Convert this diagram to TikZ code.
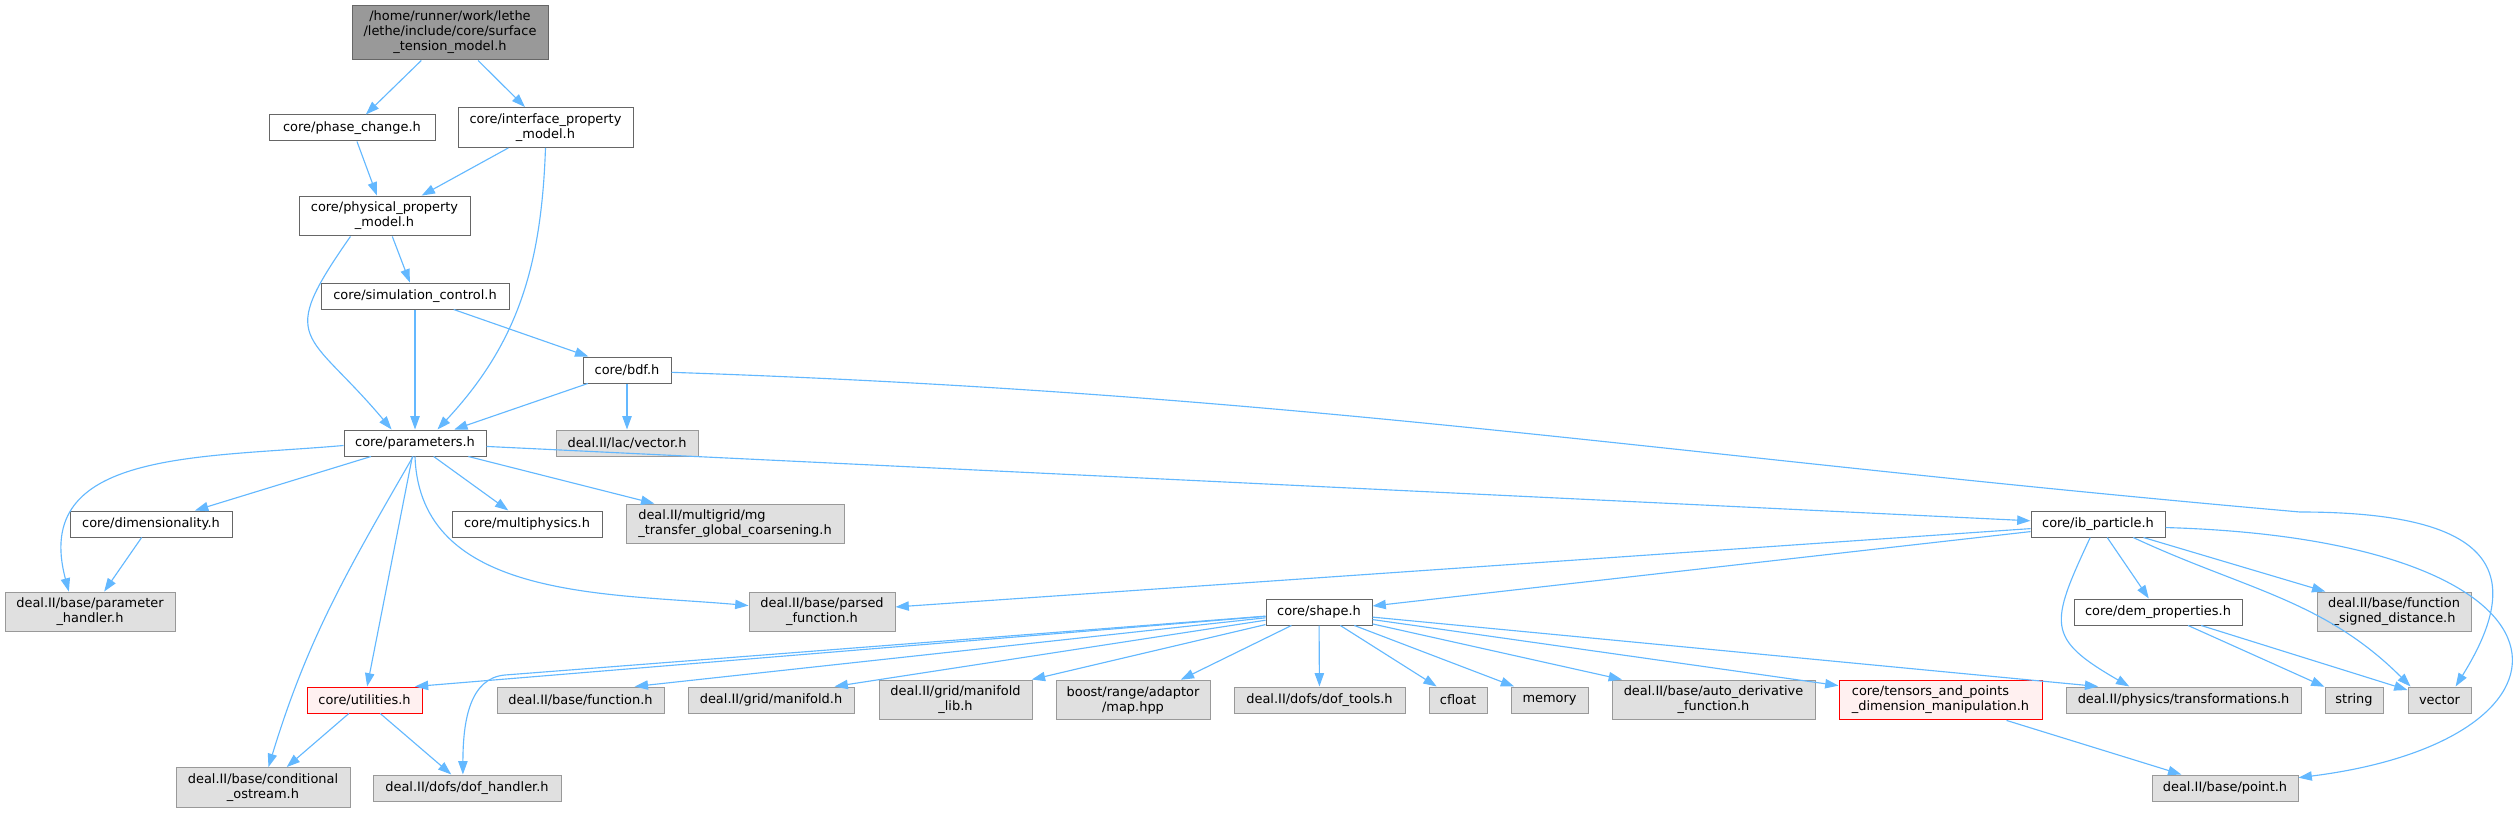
\documentclass[tikz,border=0pt]{standalone}
\usepackage{fontspec}
\setmainfont{DejaVu Sans}
\usepackage{xcolor}
\usetikzlibrary{arrows.meta}

\definecolor{edgeblue}{HTML}{63B8FF}
\definecolor{extgray}{HTML}{E0E0E0}
\definecolor{curgray}{HTML}{999999}
\definecolor{darkframe}{HTML}{666666}
\definecolor{lightframe}{HTML}{999999}
\definecolor{warnfill}{HTML}{FFF0F0}

\begin{document}
\begin{tikzpicture}[
          x=0.75pt, y=-0.75pt,
          base/.style={draw, line width=0.75pt, inner xsep=2pt, inner ysep=4.5pt, minimum height=19.5pt, align=center, font=\fontsize{9.7}{11.25}\selectfont},
          own/.style={base, draw=darkframe, fill=white},
          ext/.style={base, draw=lightframe, fill=extgray},
          cur/.style={base, draw=darkframe, fill=curgray},
          warn/.style={base, draw=red, fill=warnfill},
          bw/.style={minimum width=#1*0.75pt},
          dep/.style={draw=edgeblue, line width=0.85pt, -{Triangle[length=10pt,width=7pt]}}
      ]
        \useasboundingbox (0,0) rectangle (2516,813);
        \node[cur, bw=196] (stm) at (450,32.5) {/home/runner/work/lethe\\/lethe/include/core/surface\\\_tension\_model.h};
        \node[own, bw=166] (phch) at (352,128) {core/phase\_change.h};
        \node[own, bw=175] (ipm) at (545.5,127.5) {core/interface\_property\\\_model.h};
        \node[own, bw=171] (ppm) at (384.5,216) {core/physical\_property\\\_model.h};
        \node[own, bw=188] (simc) at (415,296) {core/simulation\_control.h};
        \node[own, bw=88] (bdf) at (627,370) {core/bdf.h};
        \node[own, bw=142] (par) at (415,443) {core/parameters.h};
        \node[ext, bw=142] (lacv) at (627,443) {deal.II/lac/vector.h};
        \node[own, bw=162] (dimn) at (151,524) {core/dimensionality.h};
        \node[own, bw=150] (mphy) at (527,524) {core/multiphysics.h};
        \node[ext, bw=218, align=left] (mgt) at (735,524) {deal.II/multigrid/mg\\\_transfer\_global\_coarsening.h};
        \node[own, bw=134] (ibp) at (2098,524) {core/ib\_particle.h};
        \node[ext, bw=170] (parh) at (90,612) {deal.II/base/parameter\\\_handler.h};
        \node[ext, bw=146] (pfun) at (822,612) {deal.II/base/parsed\\\_function.h};
        \node[own, bw=106] (shp) at (1319,612) {core/shape.h};
        \node[own, bw=168] (dem) at (2158,612) {core/dem\_properties.h};
        \node[ext, bw=154] (fsd) at (2394,612) {deal.II/base/function\\\_signed\_distance.h};
        \node[warn, bw=115] (util) at (364.5,700) {core/utilities.h};
        \node[ext, bw=167] (bfun) at (580.5,700) {deal.II/base/function.h};
        \node[ext, bw=166] (gman) at (771,700) {deal.II/grid/manifold.h};
        \node[ext, bw=153] (gmlib) at (955.5,700) {deal.II/grid/manifold\\\_lib.h};
        \node[ext, bw=154] (bmap) at (1133,700) {boost/range/adaptor\\/map.hpp};
        \node[ext, bw=171] (doft) at (1319.5,700) {deal.II/dofs/dof\_tools.h};
        \node[ext, bw=58] (cflt) at (1458,700) {cfloat};
        \node[ext, bw=77] (mem) at (1549.5,700) {memory};
        \node[ext, bw=203] (adf) at (1713.5,700) {deal.II/base/auto\_derivative\\\_function.h};
        \node[warn, bw=203, align=left] (tpdm) at (1940.5,700) {core/tensors\_and\_points\\\_dimension\_manipulation.h};
        \node[ext, bw=235] (trf) at (2183.5,700) {deal.II/physics/transformations.h};
        \node[ext, bw=58] (str) at (2354,700) {string};
        \node[ext, bw=63] (vec) at (2439.5,700) {vector};
        \node[ext, bw=174] (cos) at (263,787.5) {deal.II/base/conditional\\\_ostream.h};
        \node[ext, bw=188] (dofh) at (467,788) {deal.II/dofs/dof\_handler.h};
        \node[ext, bw=146] (pnt) at (2225,788) {deal.II/base/point.h};
        \coordinate (bv) at (2300,512);
        \coordinate (sdh) at (505,675);
        \draw[dep] (stm) -- (phch);
        \draw[dep] (stm) -- (ipm);
        \draw[dep] (phch) -- (ppm);
        \draw[dep] (ipm) -- (ppm);
        \draw[dep] (ipm.south) to[out=-92, in=47] (par.31);
        \draw[dep] (ppm) -- (simc);
        \draw[dep] (ppm.-149) to[out=-125, in=130, looseness=1.7] (par.150);
        \draw[dep] (simc) -- (par);
        \draw[dep] (simc) -- (bdf);
        \draw[dep] (bdf) -- (par);
        \draw[dep] (bdf) -- (lacv);
        \draw[dep] (bdf.-3) .. controls (1311,394) and (1662,456) .. (bv) .. controls (2500,512) and (2525,575) .. (vec.40);
        \draw[dep] (par.182) to[out=185, in=105, looseness=1.2] (parh.136);
        \draw[dep] (par) -- (dimn);
        \draw[dep] (dimn) -- (parh);
        \draw[dep] (par) -- (mphy);
        \draw[dep] (par) -- (mgt);
        \draw[dep] (par) -- (ibp);
        \draw[dep] (par.-90) to[out=-88, in=175] (pfun.175);
        \draw[dep] (par) -- (util);
        \draw[dep] (par.-98) to[out=-120, in=73] (cos.75);
        \draw[dep] (util) -- (cos);
        \draw[dep] (util) -- (dofh);
        \draw[dep] (ibp) -- (pfun);
        \draw[dep] (ibp) -- (shp);
        \draw[dep] (ibp) -- (dem);
        \draw[dep] (ibp) -- (fsd);
        \draw[dep] (ibp.-120) to[out=-115, in=150, looseness=1.6] (trf.166);
        \draw[dep] (ibp.-21) to[out=-25, in=135] (vec.155);
        \draw[dep] (ibp.-3) .. controls (2600,540) and (2600,740) .. (pnt.8);
        \draw[dep] (dem) -- (str);
        \draw[dep] (dem) -- (vec);
        \draw[dep] (shp) -- (util.15);
        \draw[dep] (shp) -- (sdh) .. controls (470,678) and (463,720) .. (dofh.107);
        \draw[dep] (shp) -- (bfun.14);
        \draw[dep] (shp) -- (gman.12);
        \draw[dep] (shp) -- (gmlib.15);
        \draw[dep] (shp) -- (bmap.23);
        \draw[dep] (shp) -- (doft);
        \draw[dep] (shp) -- (cflt);
        \draw[dep] (shp) -- (mem);
        \draw[dep] (shp) -- (adf);
        \draw[dep] (shp) -- (tpdm);
        \draw[dep] (shp) -- (trf.171);
        \draw[dep] (tpdm) -- (pnt);
      \end{tikzpicture}
\end{document}
